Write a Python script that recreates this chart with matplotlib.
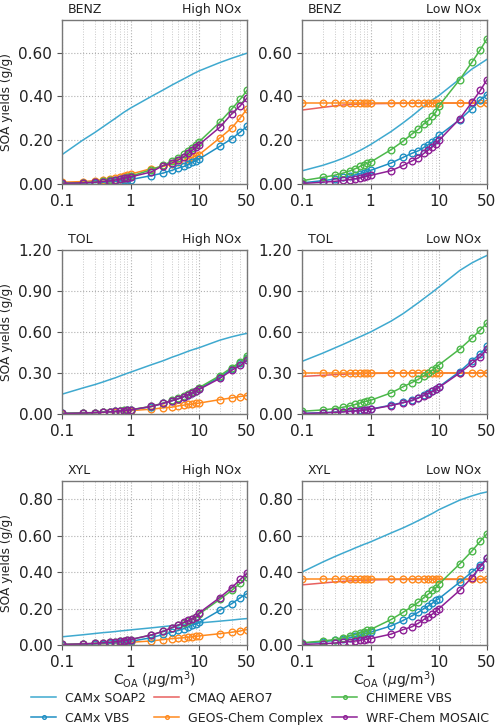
import matplotlib
matplotlib.use("Agg")
import matplotlib.pyplot as plt
from matplotlib.ticker import FixedLocator, FixedFormatter, FormatStrFormatter, LogLocator, NullFormatter

# ---------------- data ----------------
coa = [0.1, 0.2, 0.3, 0.4, 0.5, 0.6, 0.7, 0.8, 0.9, 1, 2, 3, 4, 5, 6, 7, 8, 9, 10, 20, 30, 40, 50]

series_names = ["CAMx SOAP2", "CAMx VBS", "CMAQ AERO7", "GEOS-Chem Complex", "CHIMERE VBS", "WRF-Chem MOSAIC"]
species = ["BENZ", "TOL", "XYL"]
regimes = ["High NOx", "Low NOx"]
ytick_labels = {"BENZ": [0.0, 0.2, 0.4, 0.6], "TOL": [0.0, 0.3, 0.6, 0.9, 1.2], "XYL": [0.0, 0.2, 0.4, 0.6, 0.8]}
ymax = {"BENZ": 0.75, "TOL": 1.2, "XYL": 0.9}

# BENZ High NOx
benz_high_soap2 = [0.134, 0.2, 0.235, 0.262, 0.283, 0.3, 0.315, 0.328, 0.338, 0.347, 0.4, 0.43, 0.452, 0.468, 0.481, 0.492, 0.502, 0.51, 0.517, 0.555, 0.575, 0.588, 0.598]
benz_high_vbs = [0.002, 0.004, 0.006, 0.008, 0.01, 0.012, 0.014, 0.016, 0.018, 0.02, 0.038, 0.05, 0.062, 0.073, 0.08, 0.09, 0.1, 0.106, 0.114, 0.172, 0.207, 0.238, 0.263]
benz_high_geos = [0.008, 0.011, 0.015, 0.019, 0.024, 0.028, 0.033, 0.037, 0.041, 0.045, 0.07, 0.08, 0.09, 0.1, 0.108, 0.116, 0.122, 0.128, 0.134, 0.21, 0.256, 0.303, 0.343]
benz_high_chim = [0.004, 0.006, 0.009, 0.012, 0.016, 0.02, 0.024, 0.028, 0.031, 0.035, 0.065, 0.085, 0.105, 0.12, 0.135, 0.15, 0.165, 0.178, 0.193, 0.282, 0.343, 0.388, 0.428]
benz_high_wrf = [0.003, 0.005, 0.008, 0.011, 0.014, 0.018, 0.022, 0.026, 0.029, 0.032, 0.055, 0.084, 0.096, 0.11, 0.125, 0.14, 0.155, 0.167, 0.18, 0.259, 0.321, 0.358, 0.393]

# BENZ Low NOx
benz_low_soap2 = [0.06, 0.085, 0.103, 0.118, 0.131, 0.143, 0.153, 0.163, 0.172, 0.18, 0.24, 0.28, 0.31, 0.335, 0.355, 0.37, 0.385, 0.395, 0.405, 0.48, 0.525, 0.55, 0.57]
benz_low_aero7 = [0.338, 0.35, 0.357, 0.361, 0.363, 0.364, 0.365, 0.366, 0.366, 0.367, 0.368, 0.369, 0.369, 0.37, 0.37, 0.37, 0.37, 0.37, 0.37, 0.37, 0.37, 0.37, 0.37]
benz_low_geos = [0.368] * 23
benz_low_chim = [0.015, 0.03, 0.04, 0.05, 0.06, 0.07, 0.08, 0.088, 0.095, 0.1, 0.157, 0.196, 0.228, 0.25, 0.275, 0.29, 0.31, 0.33, 0.358, 0.477, 0.556, 0.614, 0.664]
benz_low_vbs = [0.005, 0.015, 0.022, 0.03, 0.036, 0.042, 0.047, 0.052, 0.057, 0.062, 0.096, 0.122, 0.14, 0.152, 0.167, 0.18, 0.192, 0.203, 0.222, 0.294, 0.344, 0.385, 0.408]
benz_low_wrf = [0.002, 0.008, 0.012, 0.016, 0.02, 0.024, 0.028, 0.032, 0.035, 0.039, 0.061, 0.085, 0.105, 0.12, 0.14, 0.155, 0.17, 0.185, 0.2, 0.298, 0.373, 0.428, 0.477]

# TOL High NOx
tol_high_soap2 = [0.145, 0.19, 0.215, 0.235, 0.252, 0.265, 0.278, 0.289, 0.298, 0.306, 0.36, 0.39, 0.415, 0.432, 0.447, 0.46, 0.47, 0.478, 0.485, 0.54, 0.565, 0.58, 0.59]
tol_high_vbs = [0.004, 0.007, 0.01, 0.013, 0.016, 0.019, 0.022, 0.025, 0.027, 0.03, 0.054, 0.078, 0.097, 0.112, 0.127, 0.141, 0.155, 0.166, 0.185, 0.27, 0.33, 0.37, 0.41]
tol_high_geos = [0.003, 0.006, 0.009, 0.012, 0.015, 0.017, 0.019, 0.021, 0.023, 0.025, 0.035, 0.045, 0.05, 0.06, 0.065, 0.07, 0.073, 0.077, 0.08, 0.105, 0.118, 0.128, 0.135]
tol_high_chim = [0.005, 0.008, 0.011, 0.014, 0.017, 0.02, 0.023, 0.026, 0.028, 0.031, 0.056, 0.08, 0.1, 0.115, 0.13, 0.145, 0.16, 0.172, 0.193, 0.28, 0.34, 0.38, 0.428]
tol_high_wrf = [0.004, 0.007, 0.01, 0.013, 0.016, 0.019, 0.022, 0.025, 0.027, 0.03, 0.055, 0.078, 0.097, 0.112, 0.127, 0.141, 0.155, 0.166, 0.18, 0.26, 0.32, 0.355, 0.395]

# TOL Low NOx
tol_low_soap2 = [0.385, 0.445, 0.483, 0.51, 0.532, 0.55, 0.565, 0.578, 0.59, 0.6, 0.68, 0.735, 0.78, 0.815, 0.845, 0.87, 0.892, 0.912, 0.93, 1.05, 1.105, 1.137, 1.16]
tol_low_aero7 = [0.275, 0.283, 0.288, 0.291, 0.293, 0.294, 0.295, 0.296, 0.297, 0.297, 0.299, 0.3, 0.3, 0.3, 0.3, 0.3, 0.3, 0.3, 0.3, 0.3, 0.3, 0.3, 0.3]
tol_low_geos = [0.3] * 23
tol_low_chim = [0.02, 0.03, 0.04, 0.05, 0.06, 0.07, 0.08, 0.09, 0.095, 0.1, 0.155, 0.2, 0.23, 0.255, 0.28, 0.3, 0.32, 0.34, 0.36, 0.475, 0.555, 0.615, 0.665]
tol_low_vbs = [0.005, 0.01, 0.014, 0.018, 0.022, 0.025, 0.028, 0.031, 0.033, 0.036, 0.065, 0.085, 0.1, 0.12, 0.14, 0.155, 0.17, 0.185, 0.2, 0.311, 0.39, 0.44, 0.495]
tol_low_wrf = [0.003, 0.008, 0.012, 0.015, 0.019, 0.022, 0.025, 0.028, 0.031, 0.034, 0.062, 0.083, 0.098, 0.117, 0.135, 0.15, 0.165, 0.18, 0.195, 0.3, 0.37, 0.42, 0.475]

# XYL High NOx
xyl_high_soap2 = [0.045, 0.056, 0.063, 0.068, 0.071, 0.074, 0.077, 0.079, 0.081, 0.083, 0.094, 0.101, 0.106, 0.109, 0.112, 0.115, 0.117, 0.119, 0.121, 0.131, 0.137, 0.142, 0.145]
xyl_high_vbs = [0.002, 0.004, 0.006, 0.008, 0.01, 0.012, 0.014, 0.016, 0.018, 0.02, 0.04, 0.058, 0.07, 0.08, 0.09, 0.1, 0.11, 0.117, 0.124, 0.19, 0.227, 0.26, 0.282]
xyl_high_geos = [0.002, 0.004, 0.006, 0.007, 0.009, 0.01, 0.011, 0.013, 0.014, 0.015, 0.022, 0.03, 0.035, 0.038, 0.04, 0.043, 0.045, 0.047, 0.05, 0.062, 0.07, 0.077, 0.085]
xyl_high_chim = [0.003, 0.006, 0.009, 0.012, 0.015, 0.018, 0.021, 0.024, 0.027, 0.03, 0.055, 0.075, 0.095, 0.108, 0.122, 0.132, 0.142, 0.152, 0.17, 0.25, 0.3, 0.34, 0.375]
xyl_high_wrf = [0.003, 0.006, 0.009, 0.012, 0.015, 0.018, 0.021, 0.024, 0.027, 0.03, 0.055, 0.075, 0.095, 0.11, 0.125, 0.135, 0.145, 0.155, 0.176, 0.26, 0.315, 0.36, 0.395]

# XYL Low NOx
xyl_low_soap2 = [0.4, 0.455, 0.485, 0.505, 0.52, 0.533, 0.543, 0.552, 0.559, 0.566, 0.615, 0.643, 0.665, 0.683, 0.698, 0.711, 0.722, 0.733, 0.743, 0.795, 0.818, 0.832, 0.84]
xyl_low_aero7 = [0.33, 0.34, 0.346, 0.349, 0.352, 0.353, 0.355, 0.356, 0.356, 0.357, 0.359, 0.36, 0.36, 0.36, 0.36, 0.36, 0.36, 0.36, 0.36, 0.36, 0.36, 0.36, 0.36]
xyl_low_geos = [0.36] * 23
xyl_low_chim = [0.012, 0.022, 0.03, 0.04, 0.05, 0.058, 0.066, 0.074, 0.08, 0.085, 0.14, 0.18, 0.21, 0.235, 0.26, 0.28, 0.3, 0.315, 0.335, 0.445, 0.515, 0.57, 0.61]
xyl_low_vbs = [0.01, 0.018, 0.025, 0.032, 0.04, 0.047, 0.054, 0.06, 0.065, 0.07, 0.105, 0.135, 0.16, 0.18, 0.2, 0.215, 0.23, 0.245, 0.255, 0.345, 0.4, 0.44, 0.475]
xyl_low_wrf = [0.003, 0.007, 0.011, 0.015, 0.019, 0.022, 0.026, 0.029, 0.032, 0.035, 0.06, 0.085, 0.1, 0.12, 0.14, 0.155, 0.17, 0.185, 0.2, 0.3, 0.37, 0.43, 0.475]

panels = {
    ("BENZ", "High NOx"): {"CAMx SOAP2": benz_high_soap2, "CAMx VBS": benz_high_vbs, "GEOS-Chem Complex": benz_high_geos, "CHIMERE VBS": benz_high_chim, "WRF-Chem MOSAIC": benz_high_wrf},
    ("BENZ", "Low NOx"): {"CAMx SOAP2": benz_low_soap2, "CMAQ AERO7": benz_low_aero7, "GEOS-Chem Complex": benz_low_geos, "CAMx VBS": benz_low_vbs, "CHIMERE VBS": benz_low_chim, "WRF-Chem MOSAIC": benz_low_wrf},
    ("TOL", "High NOx"): {"CAMx SOAP2": tol_high_soap2, "CAMx VBS": tol_high_vbs, "GEOS-Chem Complex": tol_high_geos, "CHIMERE VBS": tol_high_chim, "WRF-Chem MOSAIC": tol_high_wrf},
    ("TOL", "Low NOx"): {"CAMx SOAP2": tol_low_soap2, "CMAQ AERO7": tol_low_aero7, "GEOS-Chem Complex": tol_low_geos, "CAMx VBS": tol_low_vbs, "CHIMERE VBS": tol_low_chim, "WRF-Chem MOSAIC": tol_low_wrf},
    ("XYL", "High NOx"): {"CAMx SOAP2": xyl_high_soap2, "CAMx VBS": xyl_high_vbs, "GEOS-Chem Complex": xyl_high_geos, "CHIMERE VBS": xyl_high_chim, "WRF-Chem MOSAIC": xyl_high_wrf},
    ("XYL", "Low NOx"): {"CAMx SOAP2": xyl_low_soap2, "CMAQ AERO7": xyl_low_aero7, "GEOS-Chem Complex": xyl_low_geos, "CAMx VBS": xyl_low_vbs, "CHIMERE VBS": xyl_low_chim, "WRF-Chem MOSAIC": xyl_low_wrf},
}

# ---------------- style ----------------
colors = {
    "CAMx SOAP2": "#3fa9cf",
    "CAMx VBS": "#1f8fc3",
    "CMAQ AERO7": "#e8605f",
    "GEOS-Chem Complex": "#ff8a1e",
    "CHIMERE VBS": "#4cb84a",
    "WRF-Chem MOSAIC": "#8e1f96",
}
markered = {"CAMx VBS", "GEOS-Chem Complex", "CHIMERE VBS", "WRF-Chem MOSAIC"}
draw_order = ["CAMx SOAP2", "CMAQ AERO7", "GEOS-Chem Complex", "CAMx VBS", "CHIMERE VBS", "WRF-Chem MOSAIC"]

plt.rcParams["font.family"] = ["DejaVu Sans"]
fig = plt.figure(figsize=(5.0, 7.28), dpi=100)

col_x = [0.124, 0.604]
row_bottom = [0.7473, 0.4313, 0.114]
w, h = 0.37, 0.2253

handles = {}
for r, sp in enumerate(species):
    for c, rg in enumerate(regimes):
        ax = fig.add_axes([col_x[c], row_bottom[r], w, h])
        data = panels[(sp, rg)]
        for name in draw_order:
            if name not in data:
                continue
            if name in markered:
                ln, = ax.plot(coa, data[name], color=colors[name], lw=1.1, marker="o",
                              ms=4.8, mfc="none", mew=1.0, label=name)
            else:
                ln, = ax.plot(coa, data[name], color=colors[name], lw=1.1, label=name)
            handles.setdefault(name, ln)
        ax.set_xscale("log")
        ax.set_xlim(0.1, 50)
        ax.set_ylim(0, ymax[sp])
        ax.xaxis.set_major_locator(FixedLocator([0.1, 1, 10, 50]))
        ax.xaxis.set_major_formatter(FixedFormatter(["0.1", "1", "10", "50"]))
        ax.xaxis.set_minor_locator(LogLocator(base=10, subs=range(2, 10)))
        ax.xaxis.set_minor_formatter(NullFormatter())
        ax.yaxis.set_major_locator(FixedLocator(ytick_labels[sp]))
        ax.yaxis.set_major_formatter(FormatStrFormatter("%.2f"))
        ax.grid(True, which="major", axis="both", ls=":", color="#b0b0b0", lw=0.8)
        ax.grid(True, which="minor", axis="x", ls=":", color="#c8c8c8", lw=0.7)
        ax.set_axisbelow(True)
        ax.tick_params(axis="both", which="major", labelsize=11, length=3.5, color="#555555", labelcolor="#222222")
        ax.tick_params(axis="x", which="minor", length=0)
        for s in ax.spines.values():
            s.set_color("#777777")
            s.set_linewidth(1.0)
        ax.text(0.03, 1.025, sp, transform=ax.transAxes, ha="left", va="bottom", fontsize=9, color="#222222")
        ax.text(0.97, 1.025, rg, transform=ax.transAxes, ha="right", va="bottom", fontsize=9, color="#222222")
        if c == 0:
            ax.set_ylabel("SOA yields (g/g)", fontsize=8.8, color="#222222", labelpad=4)
        if r == 2:
            ax.set_xlabel(r"C$_{\mathrm{OA}}$ ($\mu$g/m$^3$)", fontsize=10, color="#222222", labelpad=0)

leg_order = ["CAMx SOAP2", "CAMx VBS", "CMAQ AERO7", "GEOS-Chem Complex", "CHIMERE VBS", "WRF-Chem MOSAIC"]
leg = fig.legend([handles[n] for n in leg_order], leg_order, loc="lower center",
                 bbox_to_anchor=(0.52, -0.004), ncol=3, frameon=False, fontsize=9,
                 handlelength=2.0, columnspacing=0.7, handletextpad=0.7,
                 labelspacing=0.55, markerscale=0.55, borderpad=0.0)
for t in leg.get_texts():
    t.set_color("#222222")

fig.savefig("out.png", dpi=100)
